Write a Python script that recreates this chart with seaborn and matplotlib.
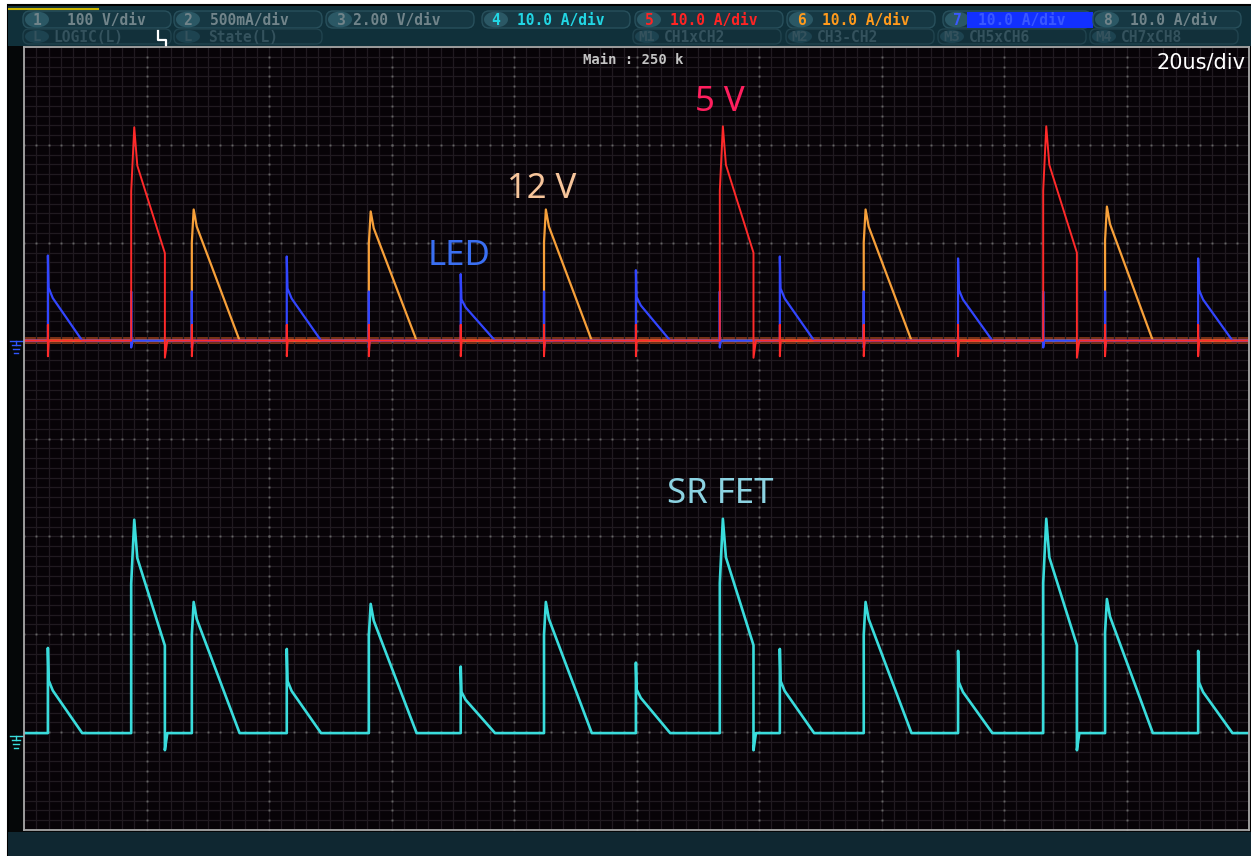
import numpy as np
import pandas as pd
import matplotlib
matplotlib.use("Agg")
import matplotlib.pyplot as plt
from matplotlib.patches import FancyBboxPatch, Rectangle, Ellipse
import seaborn as sns

# screen settings
t_div = 20.0       # us/div
a_div = 10.0       # A/div
upper_zero = 5.0   # div, ground of the 5V / 12V / LED channels
lower_zero = 0.99  # div, ground of the SR FET channel

# pulse start times (us) and spike heights (A)
led_start = [3.9, 42.9, 71.3, 99.9, 123.4, 152.5, 191.7]
led_peak = [8.7, 8.6, 6.8, 7.2, 8.6, 8.4, 8.4]
v5_start = [17.5, 113.6, 166.4]
v5_peak = [21.8, 21.9, 21.9]
v12_start = [27.4, 56.3, 84.9, 137.1, 176.5]
v12_peak = [13.4, 13.2, 13.4, 13.4, 13.7]

# pulse outlines: time after start (us) and fraction of the spike height
led_shape_t = [0, 0, 0.12, 0.8, 5.6]
led_shape_a = [0, 1.0, 0.62, 0.5, 0]
v5_shape_t = [0, 0, 0.5, 1.0, 5.5, 5.5, 5.9]
v5_shape_a = [0, 0.7, 1.0, 0.82, 0.41, -0.08, 0]
v12_shape_t = [0, 0, 0.3, 0.8, 7.8]
v12_shape_a = [0, 0.75, 1.0, 0.87, 0]

# crosstalk ringing seen on the other channels at each switching edge (A)
ring_t = [0, 0, 0, 0.15]
red_ring_a = [0, 1.6, -1.6, 0]
blue_ring_a = [0, 5.0, -0.7, 0]


def build(pulses, rings=()):
    ev = []
    for starts, peaks, st, sa in pulses:
        for s, p in zip(starts, peaks):
            ev.append((s, [s + d for d in st], [p * f for f in sa]))
    for starts, ra in rings:
        for s in starts:
            ev.append((s, [s + d for d in ring_t], list(ra)))
    ev.sort(key=lambda e: e[0])
    t, a = [0.0], [0.0]
    for _, ts, vs in ev:
        t += ts
        a += vs
    t.append(10 * t_div)
    a.append(0.0)
    return np.array(t), np.array(a)


led = (led_start, led_peak, led_shape_t, led_shape_a)
v5 = (v5_start, v5_peak, v5_shape_t, v5_shape_a)
v12 = (v12_start, v12_peak, v12_shape_t, v12_shape_a)

traces = {
    "12V": build([v12]),
    "LED": build([led], [(v5_start + v12_start, blue_ring_a)]),
    "5V": build([v5], [(led_start + v12_start, red_ring_a)]),
    "SR": build([led, v5, v12]),
}
zero = {"12V": upper_zero, "LED": upper_zero, "5V": upper_zero, "SR": lower_zero}
colors = {"12V": "#f7a03a", "LED": "#3246ff", "5V": "#ff2a2a", "SR": "#3adcdc"}

frames = []
for ch, (t, a) in traces.items():
    frames.append(pd.DataFrame({"t": t, "y": zero[ch] + a / a_div, "ch": ch}))
df = pd.concat(frames, ignore_index=True)

W, H = 1251, 856
fig = plt.figure(figsize=(W / 100, H / 100), dpi=100)
fig.patch.set_facecolor("white")

# ---------- instrument frame (pixel coordinates)
bg = fig.add_axes([0, 0, 1, 1], zorder=0)
bg.set_xlim(0, W)
bg.set_ylim(H, 0)
bg.axis("off")
bg.add_patch(Rectangle((8, 5), W - 8, H - 5, fc="#050708", ec="black", lw=1.5))
bg.add_patch(Rectangle((8, 6), W - 8, 40, fc="#10303a", ec="none"))
bg.add_patch(Rectangle((8, 832), W - 8, 24, fc="#0f2731", ec="none"))
bg.plot([9, 98], [9, 9], color="#c9b400", lw=1.5)

mono = dict(family="DejaVu Sans Mono", weight="bold")
row1 = [("1", 37, "100 V/div", 67, "#71848a"),
        ("2", 188, "500mA/div", 210, "#71848a"),
        ("3", 340, "2.00 V/div", 353, "#71848a"),
        ("4", 496, "10.0 A/div", 517, "#22d6e4"),
        ("5", 649, "10.0 A/div", 670, "#ff2424"),
        ("6", 801, "10.0 A/div", 822, "#ff9a1c"),
        ("7", 957, "10.0 A/div", 978, "#3a58ff"),
        ("8", 1107, "10.0 A/div", 1130, "#71848a")]
for num, nx, lab, lx, c in row1:
    bg.add_patch(FancyBboxPatch((nx - 14, 11), 148, 17, boxstyle="round,pad=0,rounding_size=7",
                                fc="#163843", ec="#28505c", lw=1))
    bg.add_patch(Ellipse((nx, 19.5), 24, 16, fc="#2b5865", ec="none"))
    if num == "7":
        bg.add_patch(Rectangle((967, 12), 126, 16, fc="#1230ff", ec="none"))
    bg.text(nx, 20, num, color=c, ha="center", va="center", size=10.5, **mono)
    bg.text(lx, 20, lab, color=c, ha="left", va="center", size=10.5, **mono)

row2 = [("L", 37, "LOGIC(L)", 53), ("L", 188, "State(L)", 208),
        ("M1", 647, "CH1xCH2", 664), ("M2", 800, "CH3-CH2", 817),
        ("M3", 952, "CH5xCH6", 969), ("M4", 1104, "CH7xCH8", 1121)]
for num, nx, lab, lx in row2:
    bg.add_patch(FancyBboxPatch((nx - 14, 29), 148, 15, boxstyle="round,pad=0,rounding_size=6",
                                fc="#12303a", ec="#21434e", lw=1))
    bg.add_patch(Ellipse((nx, 36.5), 24, 13, fc="#1d4350", ec="none"))
    bg.text(nx, 37, num, color="#34525d", ha="center", va="center", size=10, **mono)
    bg.text(lx, 37, lab, color="#34525d", ha="left", va="center", size=10.5, **mono)
bg.plot([158, 158, 166, 166], [31, 40, 40, 46], color="white", lw=1.6)

# ground markers
for y0, c in [(341, "#2f55ff"), (736, "#3adcdc")]:
    bg.plot([10, 23], [y0, y0], color=c, lw=1)
    for k, half in enumerate([4, 3, 2]):
        bg.plot([16 - half, 16 + half], [y0 + 4 + 4 * k, y0 + 4 + 4 * k], color=c, lw=1)
    bg.plot([16, 16], [y0, y0 + 4], color=c, lw=1)

# ---------- waveform area
ax = fig.add_axes([24 / W, 26 / H, 1225 / W, 783 / H], zorder=1)
ax.set_facecolor("#070307")
ax.set_xlim(0, 10 * t_div)
ax.set_ylim(0, 8)
ax.set_xticks(np.arange(0, 10 * t_div + 1, t_div))
ax.set_yticks(np.arange(0, 9, 1))
ax.set_xticks(np.arange(0, 10 * t_div, t_div / 10), minor=True)
ax.set_yticks(np.arange(0, 8, 0.1), minor=True)
ax.grid(which="both", color="#201a20", lw=0.9)
ax.tick_params(which="both", length=0, labelbottom=False, labelleft=False)
for s in ax.spines.values():
    s.set_color("#a8a8a8")
    s.set_linewidth(1.3)

fx = np.arange(0, 10 * t_div, t_div / 10)
fy = np.arange(0, 8, 0.1)
for xm in np.arange(t_div, 10 * t_div, t_div):
    ax.plot(np.full_like(fy, xm), fy, ls="none", marker="s", ms=1.4, mew=0, color="#646464")
for ym in range(1, 8):
    ax.plot(fx, np.full_like(fx, ym), ls="none", marker="s", ms=1.4, mew=0, color="#646464")

# noisy ground band of the upper channels
ax.axhspan(upper_zero - 0.035, upper_zero + 0.035, color="#e8602a", alpha=0.5, lw=0)

for ch, lw in [("12V", 1.6), ("LED", 1.6), ("5V", 1.4), ("SR", 1.9)]:
    sns.lineplot(data=df[df["ch"] == ch], x="t", y="y", color=colors[ch], lw=lw,
                 sort=False, estimator=None, ax=ax, legend=False)
ax.set_xlabel("")
ax.set_ylabel("")

# labels on the screen, drawn above the waveform axes
lab_font = dict(family="Noto Sans", size=25, ha="center", va="center", zorder=6)
fig.text(720 / W, 1 - 102 / H, "5 V", color="#ff1f5e", **lab_font)
fig.text(542 / W, 1 - 189 / H, "12 V", color="#f7c59b", **lab_font)
fig.text(459 / W, 1 - 256 / H, "LED", color="#3a6ff2", **lab_font)
fig.text(720 / W, 1 - 494 / H, "SR FET", color="#8cd3e2", **lab_font)

fig.text(633 / W, 1 - 60 / H, "Main : 250 k", color="#c4c4c4", ha="center", va="center",
         size=10, zorder=6, **mono)
fig.text(1245 / W, 1 - 63 / H, "20us/div", color="white", ha="right", va="center",
         size=15, zorder=6, family="DejaVu Sans")

fig.savefig("out.png", dpi=100, facecolor=fig.get_facecolor())
